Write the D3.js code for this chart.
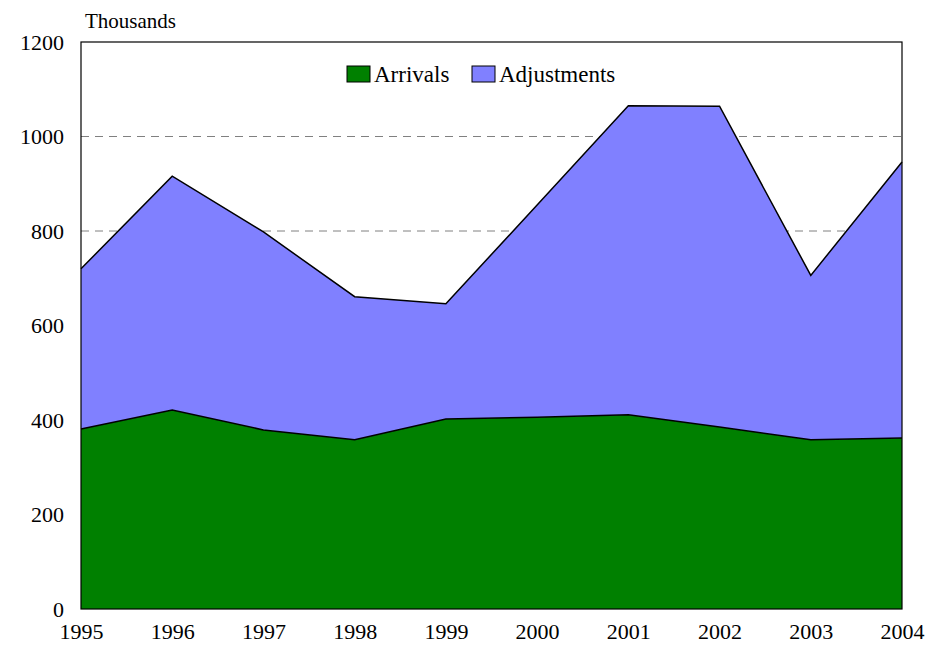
<!DOCTYPE html>
<html>
<head>
<meta charset="utf-8">
<script src="https://cdn.jsdelivr.net/npm/d3@7"></script>
<style>
  body { margin: 0; background: #fff; }
</style>
</head>
<body>
<div id="chart"></div>
<script>
// data (thousands)
var years = [1995, 1996, 1997, 1998, 1999, 2000, 2001, 2002, 2003, 2004];
var arrivals = [381, 421, 379, 358, 402, 406, 411, 385, 358, 362];
var adjustments = [339, 495, 419, 303, 244, 449, 654, 679, 348, 584];
var yTicks = [0, 200, 400, 600, 800, 1000, 1200];
var seriesNames = ["Arrivals", "Adjustments"];
var seriesColors = ["#008000", "#8080ff"];

var serif = "'Liberation Serif', 'DejaVu Serif', serif";
var width = 933, height = 652;
var margin = {top: 42, right: 31, bottom: 43, left: 81};

var svg = d3.select("#chart").append("svg")
    .attr("width", width)
    .attr("height", height)
    .style("font-family", serif);

var x = d3.scaleLinear()
    .domain([years[0], years[years.length - 1]])
    .range([margin.left, width - margin.right]);

var y = d3.scaleLinear()
    .domain([0, 1200])
    .range([height - margin.bottom, margin.top]);

var rows = years.map(function(yr, i) {
  return {year: yr, Arrivals: arrivals[i], Adjustments: adjustments[i]};
});
var stacked = d3.stack().keys(seriesNames)(rows);

// grid
svg.append("g").selectAll("line")
    .data(yTicks.filter(function(d) { return d > 0 && d < 1200; }))
    .join("line")
    .attr("x1", margin.left).attr("x2", width - margin.right)
    .attr("y1", function(d) { return y(d); })
    .attr("y2", function(d) { return y(d); })
    .attr("stroke", "#808080")
    .attr("stroke-width", 1)
    .attr("stroke-dasharray", "8,6");

// areas
var area = d3.area()
    .x(function(d) { return x(d.data.year); })
    .y0(function(d) { return y(d[0]); })
    .y1(function(d) { return y(d[1]); });

svg.append("g").selectAll("path")
    .data(stacked)
    .join("path")
    .attr("d", area)
    .attr("fill", function(d, i) { return seriesColors[i]; });

// outline of the tops
var topLine = d3.line()
    .x(function(d) { return x(d.data.year); })
    .y(function(d) { return y(d[1]); });

svg.append("g").selectAll("path")
    .data(stacked)
    .join("path")
    .attr("d", topLine)
    .attr("fill", "none")
    .attr("stroke", "#000")
    .attr("stroke-width", 1.5);

// plot frame
svg.append("rect")
    .attr("x", margin.left)
    .attr("y", margin.top)
    .attr("width", width - margin.left - margin.right)
    .attr("height", height - margin.top - margin.bottom)
    .attr("fill", "none")
    .attr("stroke", "#000")
    .attr("stroke-width", 1.2);

// y axis
var yAxis = svg.append("g")
    .attr("transform", "translate(" + margin.left + ",0)")
    .call(d3.axisLeft(y).tickValues(yTicks).tickFormat(d3.format("d")).tickSize(0).tickPadding(17));
yAxis.attr("font-family", null).attr("font-size", null);
yAxis.selectAll("text").style("font-family", serif).style("font-size", "22px");
yAxis.select(".domain").remove();

// x axis
var xAxis = svg.append("g")
    .attr("transform", "translate(0," + (height - margin.bottom) + ")")
    .call(d3.axisBottom(x).tickValues(years).tickFormat(d3.format("d")).tickSize(0).tickPadding(14));
xAxis.attr("font-family", null).attr("font-size", null);
xAxis.selectAll("text").style("font-family", serif).style("font-size", "22px");
xAxis.select(".domain").remove();

// unit label
svg.append("text")
    .attr("x", 85)
    .attr("y", 28)
    .style("font-family", serif)
    .style("font-size", "21px")
    .text("Thousands");

// legend
var legendX = [347, 472];
var legend = svg.append("g").selectAll("g")
    .data(seriesNames)
    .join("g")
    .attr("transform", function(d, i) { return "translate(" + legendX[i] + ",66)"; });

legend.append("rect")
    .attr("width", 23).attr("height", 16)
    .attr("fill", function(d, i) { return seriesColors[i]; })
    .attr("stroke", "#000")
    .attr("stroke-width", 1);

legend.append("text")
    .attr("x", 27)
    .attr("y", 16)
    .style("font-family", serif)
    .style("font-size", "23px")
    .text(function(d) { return d; });
</script>
</body>
</html>
